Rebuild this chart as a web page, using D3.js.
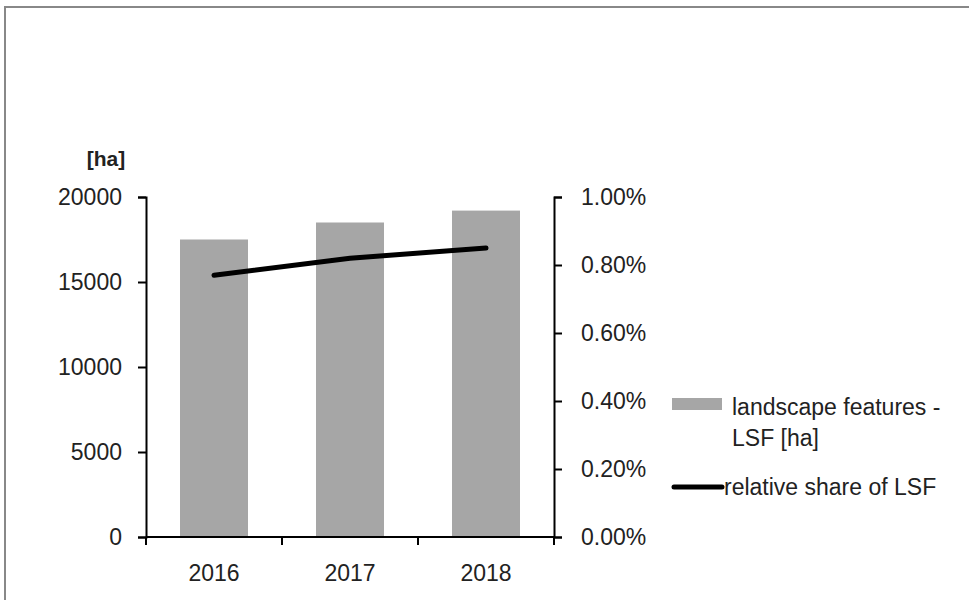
<!DOCTYPE html>
<html>
<head>
<meta charset="utf-8">
<script src="https://cdn.jsdelivr.net/npm/d3@7"></script>
<style>
  body { margin: 0; background: #fff; }
  text { font-family: "Liberation Sans", Arial, sans-serif; fill: #222; }
</style>
</head>
<body>
<div id="chart"></div>
<script>
// chart values
var years = ["2016", "2017", "2018"];
var areaHa = [17500, 18500, 19200];          // landscape features - LSF [ha]
var shareLSF = [0.0077, 0.0082, 0.0085];      // relative share of LSF
var leftTicks = [0, 5000, 10000, 15000, 20000];
var rightTicks = [0, 0.002, 0.004, 0.006, 0.008, 0.010];

var W = 969, H = 600;
var m = {left: 146, right: 554, top: 197, bottom: 537};
var fs = "23px";

var svg = d3.select("#chart").append("svg")
  .attr("width", W)
  .attr("height", H);

// outer frame (only top and left edges show)
svg.append("line").attr("x1", 5).attr("x2", W).attr("y1", 7).attr("y2", 7)
  .attr("stroke", "#888").attr("stroke-width", 2);
svg.append("line").attr("x1", 5).attr("x2", 5).attr("y1", 6).attr("y2", H)
  .attr("stroke", "#888").attr("stroke-width", 2);

var x = d3.scaleBand()
  .domain(years)
  .range([m.left, m.right])
  .paddingInner(0.5)
  .paddingOuter(0.25);

var xGrid = d3.scaleBand().domain(years).range([m.left, m.right]);

var y = d3.scaleLinear().domain([0, 20000]).range([m.bottom, m.top]);
var y2 = d3.scaleLinear().domain([0, 0.01]).range([m.bottom, m.top]);

// bars
svg.selectAll(".bar")
  .data(areaHa).enter()
  .append("rect")
  .attr("class", "bar")
  .attr("x", function(d, i) { return x(years[i]); })
  .attr("width", x.bandwidth())
  .attr("y", function(d) { return y(d); })
  .attr("height", function(d) { return m.bottom - y(d); })
  .attr("fill", "#a6a6a6");

// left axis
var yAxis = svg.append("g")
  .attr("transform", "translate(" + m.left + ",0)")
  .call(d3.axisLeft(y).tickValues(leftTicks).tickSize(8).tickSizeOuter(8).tickPadding(16).tickFormat(d3.format("d")));

// right axis
var y2Axis = svg.append("g")
  .attr("transform", "translate(" + m.right + ",0)")
  .call(d3.axisRight(y2).tickValues(rightTicks).tickSize(8).tickSizeOuter(8).tickPadding(19).tickFormat(d3.format(".2%")));

// x axis with ticks at category boundaries
var xAxis = svg.append("g")
  .attr("transform", "translate(0," + m.bottom + ")");
xAxis.append("line")
  .attr("x1", m.left).attr("x2", m.right)
  .attr("stroke", "#000").attr("stroke-width", 2);
xAxis.selectAll(".xt")
  .data(years.concat(["end"])).enter()
  .append("line")
  .attr("class", "xt")
  .attr("x1", function(d, i) { return i < years.length ? xGrid(d) : m.right; })
  .attr("x2", function(d, i) { return i < years.length ? xGrid(d) : m.right; })
  .attr("y1", 0).attr("y2", 8)
  .attr("stroke", "#000").attr("stroke-width", 2);
xAxis.selectAll(".xl")
  .data(years).enter()
  .append("text")
  .attr("class", "xl")
  .attr("x", function(d) { return x(d) + x.bandwidth() / 2; })
  .attr("y", 44)
  .attr("text-anchor", "middle")
  .style("font-size", fs)
  .text(function(d) { return d; });

[yAxis, y2Axis].forEach(function(a) {
  a.select(".domain").attr("stroke", "#000").attr("stroke-width", 2);
  a.selectAll(".tick line").attr("stroke", "#000").attr("stroke-width", 2);
  a.selectAll(".tick text").style("font-size", fs).attr("fill", "#222").style("font-family", "Liberation Sans, Arial, sans-serif");
});

// unit label
svg.append("text")
  .attr("x", 106).attr("y", 166)
  .attr("text-anchor", "middle")
  .style("font-size", "21px").style("font-weight", "bold")
  .text("[ha]");

// share line
var line = d3.line()
  .x(function(d, i) { return x(years[i]) + x.bandwidth() / 2; })
  .y(function(d) { return y2(d); });

svg.append("path")
  .datum(shareLSF)
  .attr("d", line)
  .attr("fill", "none")
  .attr("stroke", "#000")
  .attr("stroke-width", 5)
  .attr("stroke-linecap", "round")
  .attr("stroke-linejoin", "round");

// legend
var lg = svg.append("g");
lg.append("rect")
  .attr("x", 672).attr("y", 398).attr("width", 50).attr("height", 12)
  .attr("fill", "#a6a6a6");
lg.append("text").attr("x", 732).attr("y", 415).style("font-size", fs).text("landscape features -");
lg.append("text").attr("x", 732).attr("y", 446).style("font-size", fs).text("LSF [ha]");
lg.append("line")
  .attr("x1", 674).attr("x2", 722).attr("y1", 487).attr("y2", 487)
  .attr("stroke", "#000").attr("stroke-width", 5).attr("stroke-linecap", "round");
lg.append("text").attr("x", 724).attr("y", 495).style("font-size", fs).text("relative share of LSF");
</script>
</body>
</html>
